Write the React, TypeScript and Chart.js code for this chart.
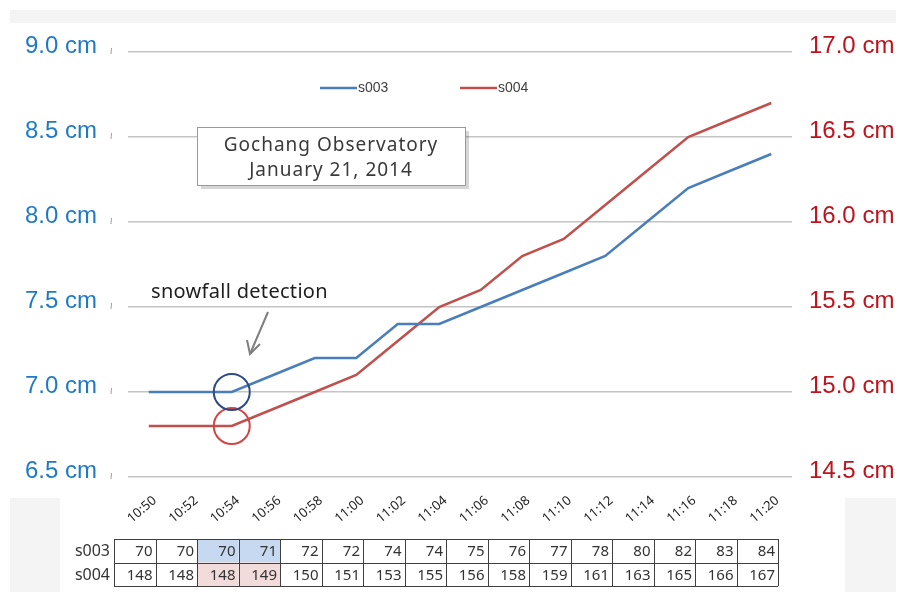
import React, { useEffect, useRef } from "react";
import { Chart, registerables } from "chart.js";

Chart.register(...registerables);

const timeLabels = ["10:50", "10:52", "10:54", "10:56", "10:58", "11:00", "11:02", "11:04", "11:06", "11:08", "11:10", "11:12", "11:14", "11:16", "11:18", "11:20"];
const s003Cm = [7.0, 7.0, 7.0, 7.1, 7.2, 7.2, 7.4, 7.4, 7.5, 7.6, 7.7, 7.8, 8.0, 8.2, 8.3, 8.4];
const s004Cm = [14.8, 14.8, 14.8, 14.9, 15.0, 15.1, 15.3, 15.5, 15.6, 15.8, 15.9, 16.1, 16.3, 16.5, 16.6, 16.7];
const s003Table = [70, 70, 70, 71, 72, 72, 74, 74, 75, 76, 77, 78, 80, 82, 83, 84];
const s004Table = [148, 148, 148, 149, 150, 151, 153, 155, 156, 158, 159, 161, 163, 165, 166, 167];
const highlightIdx = [2, 3];
const detectIdx = 2;
const leftTicks = { min: 6.5, max: 9.0, step: 0.5 };
const rightTicks = { min: 14.5, max: 17.0, step: 0.5 };

const BLUE = "#4a7ebb";
const RED = "#c0504d";

const decorPlugin = {
  id: "decor",
  beforeDraw(chart: any) {
    const ctx = chart.ctx;
    ctx.save();
    ctx.fillStyle = "#ffffff";
    ctx.fillRect(0, 0, chart.width, chart.height);
    ctx.fillStyle = "#f4f4f4";
    ctx.fillRect(10, 10, 886, 13);
    ctx.fillRect(10, 498, 50, 94);
    ctx.fillRect(845, 498, 51, 94);
    ctx.restore();
  },
  afterDraw(chart: any) {
    const ctx = chart.ctx;
    const xs = chart.scales.x;
    const yl = chart.scales.y;
    ctx.save();

    // small marks next to left labels
    ctx.strokeStyle = "#a0a0a0";
    ctx.lineWidth = 1;
    yl.ticks.forEach((t: any) => {
      const y = yl.getPixelForValue(t.value);
      ctx.beginPath();
      ctx.moveTo(111.5, y - 4);
      ctx.lineTo(111, y + 2);
      ctx.stroke();
    });

    // legend
    ctx.font = "14px 'Liberation Sans', Arial, sans-serif";
    ctx.textBaseline = "middle";
    ctx.textAlign = "left";
    const legendItems = [
      { label: "s003", color: BLUE, x: 320 },
      { label: "s004", color: RED, x: 460 },
    ];
    legendItems.forEach((it) => {
      ctx.strokeStyle = it.color;
      ctx.lineWidth = 2.5;
      ctx.beginPath();
      ctx.moveTo(it.x, 88);
      ctx.lineTo(it.x + 37, 88);
      ctx.stroke();
      ctx.fillStyle = "#404040";
      ctx.fillText(it.label, it.x + 38, 88);
    });

    // annotation box
    ctx.fillStyle = "rgba(0,0,0,0.16)";
    ctx.fillRect(201, 131, 268, 58);
    ctx.fillStyle = "#ffffff";
    ctx.fillRect(197, 127, 268, 58);
    ctx.strokeStyle = "#9a9a9a";
    ctx.lineWidth = 1;
    ctx.strokeRect(197.5, 127.5, 268, 58);
    ctx.fillStyle = "#3a3a3a";
    ctx.textAlign = "center";
    ctx.font = "19px 'Noto Sans', sans-serif";
    (ctx as any).letterSpacing = "1px";
    ctx.fillText("Gochang Observatory", 331, 146);
    ctx.fillText("January 21, 2014", 331, 171);

    // snowfall detection
    ctx.textAlign = "left";
    ctx.fillStyle = "#1e1e1e";
    ctx.font = "20px 'Noto Sans', sans-serif";
    (ctx as any).letterSpacing = "0.3px";
    ctx.fillText("snowfall detection", 151, 292);
    (ctx as any).letterSpacing = "0px";

    // arrow
    ctx.strokeStyle = "#7f7f7f";
    ctx.lineWidth = 2;
    ctx.beginPath();
    ctx.moveTo(268, 312);
    ctx.lineTo(250, 354);
    ctx.stroke();
    ctx.beginPath();
    ctx.moveTo(247, 340);
    ctx.lineTo(250, 354);
    ctx.lineTo(260, 344);
    ctx.stroke();

    // data table
    const colW = xs.getPixelForValue(1) - xs.getPixelForValue(0);
    const left = xs.getPixelForValue(0) - colW / 2 - 14;
    const top = 539;
    const rowH = 23.5;
    const rows = [
      { name: "s003", vals: s003Table, hl: "#c6d9f0" },
      { name: "s004", vals: s004Table, hl: "#f2dcdb" },
    ];
    rows.forEach((r, ri) => {
      highlightIdx.forEach((i) => {
        ctx.fillStyle = r.hl;
        ctx.fillRect(left + i * colW, top + ri * rowH, colW, rowH);
      });
    });
    ctx.strokeStyle = "#404040";
    ctx.lineWidth = 1;
    const n = timeLabels.length;
    for (let ri = 0; ri <= rows.length; ri++) {
      const y = Math.round(top + ri * rowH) + 0.5;
      ctx.beginPath();
      ctx.moveTo(left, y);
      ctx.lineTo(left + n * colW, y);
      ctx.stroke();
    }
    for (let i = 0; i <= n; i++) {
      const x = Math.round(left + i * colW) + 0.5;
      ctx.beginPath();
      ctx.moveTo(x, top);
      ctx.lineTo(x, top + rows.length * rowH);
      ctx.stroke();
    }
    ctx.fillStyle = "#333333";
    ctx.textBaseline = "middle";
    rows.forEach((r, ri) => {
      const yc = top + ri * rowH + rowH / 2 + 1;
      ctx.textAlign = "right";
      ctx.font = "16px 'Noto Sans', sans-serif";
      ctx.fillText(r.name, left - 4, yc);
      ctx.font = "15px 'Noto Sans', sans-serif";
      r.vals.forEach((v, i) => {
        ctx.fillText(String(v), left + (i + 1) * colW - 3, yc);
      });
    });

    ctx.restore();
  },
};

export default function App() {
  const ref = useRef<HTMLCanvasElement | null>(null);
  useEffect(() => {
    if (!ref.current) return;
    const pointRadii = timeLabels.map((_, i) => (i === detectIdx ? 18 : 0));
    const chart = new Chart(ref.current, {
      type: "line",
      data: {
        labels: timeLabels,
        datasets: [
          {
            label: "s003",
            data: s003Cm,
            borderColor: BLUE,
            borderWidth: 2.5,
            yAxisID: "y",
            pointRadius: pointRadii,
            pointBorderColor: "#2b4a86",
            pointBorderWidth: 2,
            pointBackgroundColor: "rgba(0,0,0,0)",
            tension: 0,
          },
          {
            label: "s004",
            data: s004Cm,
            borderColor: RED,
            borderWidth: 2.5,
            yAxisID: "y1",
            pointRadius: pointRadii,
            pointBorderColor: "#d04646",
            pointBorderWidth: 2,
            pointBackgroundColor: "rgba(0,0,0,0)",
            tension: 0,
          },
        ],
      },
      options: {
        responsive: false,
        animation: false,
        layout: { padding: { top: 52, left: 0, right: 0, bottom: 0 } },
        plugins: { legend: { display: false }, tooltip: { enabled: false } },
        scales: {
          x: {
            offset: true,
            grid: { display: false },
            border: { display: false },
            ticks: {
              minRotation: 40,
              maxRotation: 40,
              autoSkip: false,
              padding: 8,
              labelOffset: 6,
              color: "#222222",
              font: { size: 13, family: "'Noto Sans', sans-serif" },
            },
            afterFit: (s: any) => {
              s.height = 121;
            },
          },
          y: {
            position: "left",
            min: leftTicks.min,
            max: leftTicks.max,
            ticks: {
              stepSize: leftTicks.step,
              padding: 31,
              labelOffset: -6,
              color: "#1f7ac6",
              font: { size: 24, family: "'Liberation Sans', Arial, sans-serif" },
              callback: (v: any) => Number(v).toFixed(1) + " cm",
            },
            grid: { color: "#c4c4c4", lineWidth: 1.5, drawTicks: false },
            border: { display: false },
            afterFit: (s: any) => {
              s.width = 128;
            },
          },
          y1: {
            position: "right",
            min: rightTicks.min,
            max: rightTicks.max,
            ticks: {
              stepSize: rightTicks.step,
              padding: 17,
              labelOffset: -6,
              color: "#c0121c",
              font: { size: 24, family: "'Liberation Sans', Arial, sans-serif" },
              callback: (v: any) => Number(v).toFixed(1) + " cm",
            },
            grid: { drawOnChartArea: false, drawTicks: false },
            border: { display: false },
            afterFit: (s: any) => {
              s.width = 114;
            },
          },
        },
      },
      plugins: [decorPlugin],
    });
    return () => chart.destroy();
  }, []);
  return (
    <div style={{ position: "absolute", left: 0, top: 0, width: 906, height: 598 }}>
      <canvas ref={ref} width={906} height={598} style={{ display: "block" }} />
    </div>
  );
}
